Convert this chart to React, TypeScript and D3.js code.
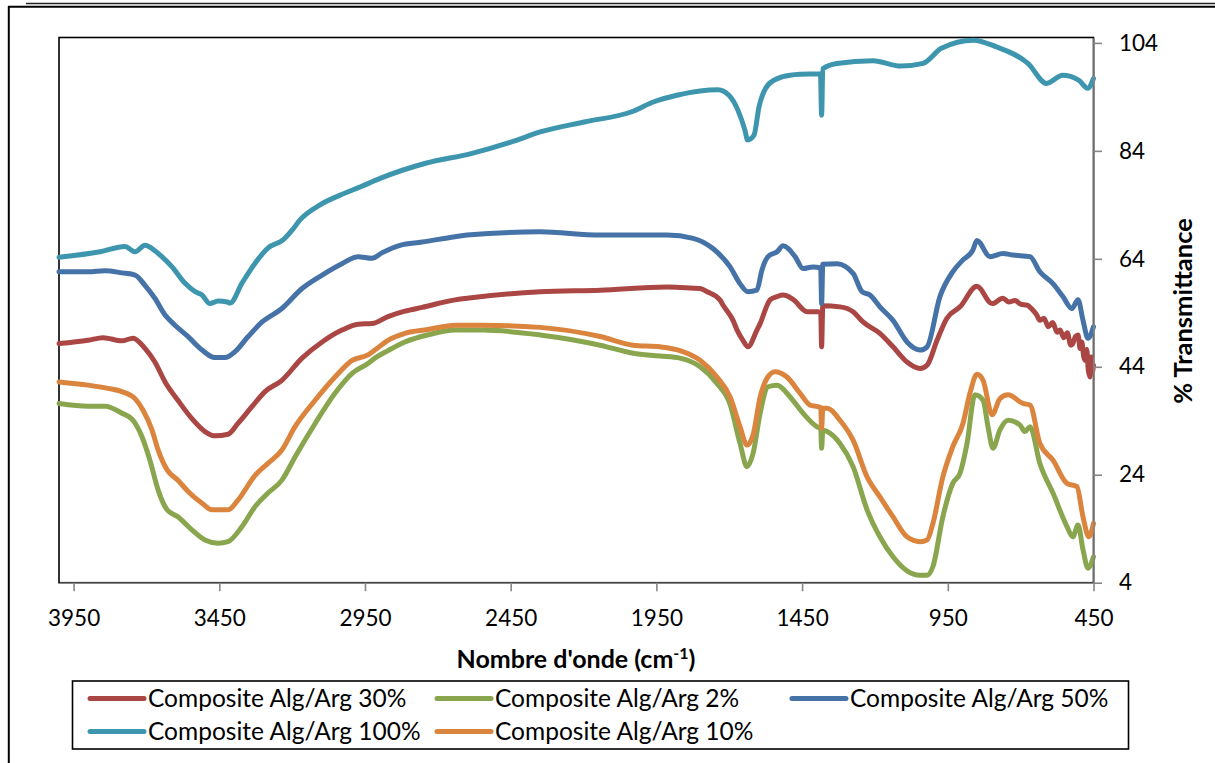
import React, { useEffect, useRef } from 'react';
import * as d3 from 'd3';

type Pt = [number, number];

// Axis ticks
const wavenumberTicks = [3950, 3450, 2950, 2450, 1950, 1450, 950, 450];
const transmittanceTicks = [4, 24, 44, 64, 84, 104];

// FTIR spectra: [wavenumber (cm-1), % transmittance]
const alg30: Pt[] = [
  [4000, 48.3], [3900, 48.9], [3849, 49.4], [3784, 48.8], [3746, 49.3], [3705, 47.4], [3671, 44.9],
  [3636, 41.2], [3592, 37.8], [3544, 34.4], [3499, 32.0], [3465, 31.2], [3420, 31.5], [3386, 33.5],
  [3338, 36.6], [3293, 39.4], [3235, 41.5], [3166, 45.6], [3097, 48.6], [3029, 50.8], [2974, 51.9],
  [2926, 52.0], [2871, 53.3], [2813, 54.3], [2754, 55.0], [2641, 56.4], [2600, 56.7], [2349, 57.9],
  [2143, 58.2], [1914, 58.8], [1869, 58.7], [1800, 58.5], [1776, 57.9], [1732, 56.4], [1721, 55.4],
  [1687, 52.6], [1673, 50.8], [1653, 48.9], [1636, 47.7], [1605, 50.8], [1594, 52.0], [1570, 55.4],
  [1560, 56.4], [1536, 57.0], [1515, 57.3], [1481, 56.5], [1433, 54.2], [1395, 54.2], [1386, 54.0],
  [1383, 47.7], [1379, 55.3], [1320, 55.1], [1275, 54.2], [1241, 52.3], [1183, 50.2], [1138, 47.7],
  [1090, 44.9], [1045, 43.7], [1021, 44.3], [987, 48.9], [953, 53.0], [908, 55.1], [850, 58.9],
  [798, 55.7], [761, 56.7], [740, 56.0], [720, 56.3], [700, 55.6], [678, 55.4], [660, 54.6],
  [645, 53.6], [634, 52.6], [620, 53.0], [605, 51.4], [590, 52.2], [575, 50.4], [565, 50.8],
  [552, 49.4], [540, 50.3], [528, 48.0], [521, 48.3], [512, 49.6], [503, 49.9], [496, 47.4],
  [490, 48.6], [484, 46.0], [479, 45.2], [473, 47.2], [468, 43.4], [462, 42.1], [458, 45.8],
  [454, 43.0], [450, 44.3],
];

const alg2: Pt[] = [
  [4000, 37.2], [3900, 36.7], [3842, 36.7], [3784, 35.4], [3746, 34.1], [3715, 31.0], [3688, 26.7],
  [3660, 21.2], [3629, 17.5], [3592, 16.2], [3544, 13.8], [3499, 11.9], [3454, 11.3], [3420, 11.6],
  [3372, 14.4], [3327, 18.1], [3283, 20.6], [3235, 23.0], [3190, 27.3], [3121, 33.5], [3053, 39.1],
  [2994, 42.8], [2940, 44.6], [2916, 45.6], [2871, 47.0], [2813, 48.6], [2734, 49.9], [2641, 50.8],
  [2545, 50.8], [2349, 49.9], [2143, 48.0], [2030, 46.5], [1938, 46.0], [1869, 45.6], [1800, 44.0],
  [1742, 40.9], [1697, 37.0], [1663, 29.8], [1639, 25.5], [1618, 28.0], [1594, 35.4], [1567, 40.3],
  [1536, 40.6], [1491, 38.4], [1447, 35.4], [1399, 32.9], [1386, 32.6], [1383, 28.9], [1379, 32.3],
  [1364, 32.0], [1320, 29.8], [1275, 25.5], [1227, 17.5], [1183, 12.5], [1138, 8.8], [1090, 6.2],
  [1045, 5.4], [1021, 5.4], [1001, 7.0], [967, 16.2], [933, 22.4], [908, 24.3], [884, 29.8],
  [857, 38.8], [829, 37.8], [812, 32.9], [795, 28.9], [771, 32.3], [743, 34.1], [702, 33.2],
  [685, 32.0], [668, 32.9], [634, 26.1], [589, 20.6], [541, 14.4], [521, 12.5], [503, 14.7],
  [486, 10.1], [469, 6.7], [450, 8.8],
];

const alg50: Pt[] = [
  [4000, 61.6], [3900, 61.6], [3842, 61.8], [3784, 61.4], [3739, 61.0], [3705, 59.1], [3671, 56.7],
  [3636, 53.6], [3602, 51.7], [3557, 49.6], [3509, 47.1], [3465, 45.7], [3430, 45.7], [3396, 46.8],
  [3351, 49.6], [3303, 52.3], [3235, 54.8], [3166, 58.5], [3097, 61.0], [3029, 63.1], [2974, 64.4],
  [2926, 64.1], [2892, 65.1], [2830, 66.5], [2754, 67.1], [2641, 68.1], [2600, 68.4], [2349, 69.0],
  [2143, 68.4], [1914, 68.4], [1824, 67.8], [1756, 65.9], [1697, 62.5], [1663, 59.4], [1636, 57.9],
  [1605, 58.2], [1588, 61.9], [1567, 64.4], [1536, 65.3], [1515, 66.4], [1474, 64.4], [1447, 62.2],
  [1413, 62.5], [1386, 62.3], [1383, 55.7], [1379, 63.0], [1330, 63.1], [1275, 61.3], [1244, 57.9],
  [1217, 57.3], [1183, 55.1], [1138, 52.6], [1090, 48.6], [1045, 47.1], [1021, 47.7], [977, 57.0],
  [933, 61.6], [898, 63.8], [864, 65.6], [850, 67.4], [805, 64.4], [761, 65.0], [726, 64.7],
  [668, 64.4], [634, 61.6], [589, 59.4], [555, 57.0], [524, 54.8], [503, 56.4], [486, 52.6],
  [469, 49.3], [450, 51.4],
];

const alg100: Pt[] = [
  [4000, 64.3], [3859, 65.3], [3774, 66.3], [3739, 65.3], [3705, 66.5], [3671, 65.5], [3647, 64.4],
  [3612, 62.5], [3568, 59.5], [3533, 57.9], [3509, 57.3], [3482, 55.7], [3454, 56.2], [3423, 56.0],
  [3413, 55.8], [3372, 59.5], [3327, 63.2], [3283, 66.0], [3231, 67.5], [3200, 69.3], [3173, 71.2],
  [3104, 74.0], [3035, 75.8], [2967, 77.3], [2898, 78.9], [2742, 81.7], [2586, 83.5], [2428, 86.0],
  [2349, 87.5], [2193, 89.4], [2037, 91.2], [1958, 93.1], [1880, 94.3], [1800, 95.1], [1739, 95.3],
  [1701, 94.3], [1670, 91.5], [1646, 87.8], [1637, 86.0], [1615, 86.9], [1598, 92.1], [1567, 96.2],
  [1519, 97.7], [1457, 98.2], [1387, 98.3], [1383, 90.6], [1379, 99.2], [1331, 100.2], [1207, 100.7],
  [1112, 99.7], [1035, 100.2], [972, 103.0], [862, 104.5], [785, 103.3], [675, 100.2], [611, 96.5],
  [556, 98.0], [501, 97.1], [470, 95.6], [450, 97.4],
];

const alg10: Pt[] = [
  [4000, 41.2], [3900, 40.6], [3832, 40.0], [3784, 39.4], [3739, 38.1], [3712, 36.0], [3681, 32.3],
  [3660, 28.6], [3629, 24.9], [3592, 23.0], [3557, 20.9], [3509, 18.7], [3475, 17.5], [3420, 17.5],
  [3386, 19.3], [3327, 23.9], [3283, 26.1], [3235, 28.6], [3190, 32.9], [3121, 37.8], [3053, 42.1],
  [2994, 45.2], [2940, 46.2], [2916, 47.1], [2871, 48.9], [2813, 50.2], [2734, 50.9], [2641, 51.7],
  [2545, 51.7], [2349, 51.3], [2143, 49.6], [2030, 48.0], [1938, 47.7], [1869, 47.0], [1800, 45.2],
  [1742, 42.1], [1697, 38.4], [1663, 32.9], [1639, 29.5], [1618, 31.4], [1594, 38.4], [1570, 41.9],
  [1543, 43.1], [1502, 42.1], [1457, 39.1], [1423, 36.9], [1395, 36.6], [1386, 36.4], [1383, 32.6],
  [1379, 36.3], [1364, 36.3], [1320, 34.1], [1275, 30.4], [1227, 23.6], [1183, 19.9], [1138, 16.2],
  [1090, 12.5], [1045, 11.6], [1021, 11.9], [1001, 15.0], [967, 23.6], [933, 29.2], [898, 33.5],
  [874, 39.1], [850, 42.6], [829, 41.5], [798, 35.1], [771, 38.1], [743, 38.8], [692, 37.2],
  [668, 36.9], [634, 29.8], [589, 26.7], [541, 22.4], [507, 21.8], [486, 16.2], [466, 12.5],
  [450, 15.0],
];

const seriesNames = [
  'Composite Alg/Arg 30%',
  'Composite Alg/Arg 2%',
  'Composite Alg/Arg 50%',
  'Composite Alg/Arg 100%',
  'Composite Alg/Arg 10%',
];
const seriesColors = ['#AA4643', '#89A54E', '#4572A7', '#3D96AE', '#DB843D'];
const seriesValues = [alg30, alg2, alg50, alg100, alg10];

const W = 1215;
const H = 763;
const plot = { left: 59, right: 1093.5, top: 37.5, bottom: 582.7 };
const FONT = 'Lato, "Open Sans", sans-serif';
const AXIS_GRAY = '#868686';
const LINE_W = 5;

export default function App() {
  const xAxisRef = useRef<SVGGElement>(null);
  const yAxisRef = useRef<SVGGElement>(null);

  const x = d3.scaleLinear().domain([4000, 450]).range([plot.left, plot.right]);
  const y = d3.scaleLinear().domain([4, 105]).range([plot.bottom, plot.top]);

  const line = d3
    .line<Pt>()
    .x((d) => x(d[0]))
    .y((d) => y(d[1]))
    .curve(d3.curveMonotoneX);

  useEffect(() => {
    const styleAxis = (g: d3.Selection<SVGGElement, unknown, null, undefined>) => {
      g.select('.domain').attr('stroke', AXIS_GRAY).attr('stroke-width', 1.6);
      g.selectAll('.tick line').attr('stroke', AXIS_GRAY).attr('stroke-width', 1.6);
      g.selectAll('.tick text')
        .attr('fill', '#000')
        .style('font-family', FONT)
        .style('font-size', '22.5px');
      g.attr('font-family', null).attr('font-size', null);
    };

    if (xAxisRef.current) {
      const g = d3.select(xAxisRef.current);
      g.call(
        d3
          .axisBottom(x)
          .tickValues(wavenumberTicks)
          .tickSize(8.5)
          .tickSizeOuter(0)
          .tickPadding(19)
          .tickFormat((d) => String(d))
      );
      styleAxis(g);
    }
    if (yAxisRef.current) {
      const g = d3.select(yAxisRef.current);
      g.call(
        d3
          .axisRight(y)
          .tickValues(transmittanceTicks)
          .tickSize(8.5)
          .tickSizeOuter(0)
          .tickPadding(17)
          .tickFormat((d) => String(d))
      );
      styleAxis(g);
      g.selectAll('.tick text').attr('text-anchor', 'start');
    }
  }, []);

  const legendCols = [88, 435, 790];
  const legendRows = [698.5, 731.5];
  const legendOrder = [0, 1, 2, 3, 4];

  return (
    <svg
      width={W}
      height={H}
      viewBox={`0 0 ${W} ${H}`}
      style={{ position: 'absolute', left: 0, top: 0, background: '#fff' }}
    >
      <rect x={0} y={0} width={W} height={H} fill="#fff" />
      {/* page rules and chart frame */}
      <line x1={26} x2={W} y1={3.5} y2={3.5} stroke="#222" strokeWidth={1.4} />
      <line x1={8} x2={W} y1={6.8} y2={6.8} stroke="#000" strokeWidth={2} />
      <line x1={8.8} x2={8.8} y1={6} y2={H} stroke="#000" strokeWidth={2} />

      {/* plot area border */}
      <rect
        x={plot.left}
        y={plot.top}
        width={plot.right - plot.left}
        height={plot.bottom - plot.top}
        fill="none"
        stroke="#000"
        strokeWidth={1.6}
      />

      {/* spectra */}
      <g fill="none" strokeWidth={LINE_W} strokeLinejoin="round" strokeLinecap="round">
        {seriesValues.map((vals, i) => (
          <path key={seriesNames[i]} d={line(vals) ?? ''} stroke={seriesColors[i]} />
        ))}
      </g>

      <g ref={xAxisRef} transform={`translate(0,${plot.bottom})`} />
      <g ref={yAxisRef} transform={`translate(${plot.right},0)`} />

      {/* axis titles */}
      <text
        x={576}
        y={668}
        textAnchor="middle"
        fontFamily={FONT}
        fontWeight="bold"
        fontSize={25}
        fill="#000"
      >
        Nombre d'onde (cm
        <tspan baselineShift="super" fontSize={16}>
          -1
        </tspan>
        )
      </text>
      <text
        transform="translate(1192,311) rotate(-90)"
        textAnchor="middle"
        fontFamily={FONT}
        fontWeight="bold"
        fontSize={25.5}
        fill="#000"
      >
        % Transmittance
      </text>

      {/* legend */}
      <rect x={72.5} y={681} width={1056} height={68} fill="#fff" stroke="#000" strokeWidth={1.6} />
      {legendOrder.map((si, k) => {
        const cx = legendCols[k % 3];
        const cy = legendRows[Math.floor(k / 3)];
        return (
          <g key={seriesNames[si]}>
            <line
              x1={cx + 2}
              x2={cx + 56}
              y1={cy}
              y2={cy}
              stroke={seriesColors[si]}
              strokeWidth={LINE_W}
              strokeLinecap="round"
            />
            <text
              x={cx + 60}
              y={cy}
              dy="0.35em"
              fontFamily={FONT}
              fontSize={24.5}
              fill="#000"
            >
              {seriesNames[si]}
            </text>
          </g>
        );
      })}
    </svg>
  );
}
